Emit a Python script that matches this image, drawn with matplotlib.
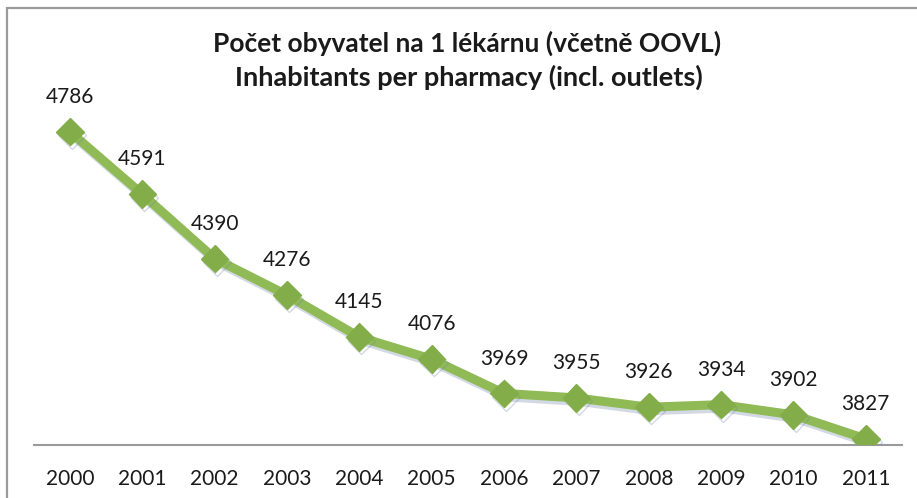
import matplotlib
matplotlib.use("Agg")
import matplotlib.pyplot as plt
import matplotlib.patheffects as pe
from matplotlib.patches import Rectangle

years = ["2000", "2001", "2002", "2003", "2004", "2005",
         "2006", "2007", "2008", "2009", "2010", "2011"]
inhabitants = [4786, 4591, 4390, 4276, 4145, 4076,
               3969, 3955, 3926, 3934, 3902, 3827]
title_cz = "Počet obyvatel na 1 lékárnu (včetně OOVL)"
title_en = "Inhabitants per pharmacy (incl. outlets)"

plt.rcParams['font.family'] = ['Lato', 'DejaVu Sans']

W, H = 917, 498
fig = plt.figure(figsize=(W / 100, H / 100), dpi=100)
fig.patch.set_facecolor("white")

# gray frame (only left/top visible, the rest is cropped)
fig.patches.append(Rectangle((7 / W, -0.05), 1.2, 1 - 8 / H + 0.05,
                             transform=fig.transFigure, fill=False,
                             edgecolor="#9a9a9a", linewidth=1.6))

ax = fig.add_axes([33.8 / W, (H - 445) / H, (902 - 33.8) / W, 385 / H])
ax.set_facecolor("none")

x = list(range(len(years)))
shadow = [pe.SimpleLineShadow(offset=(1.5, -2.5), shadow_color="#6f82a8", alpha=0.3),
          pe.Normal()]
ax.plot(x, inhabitants, color="#8fba55", linewidth=6.5,
        marker="D", markersize=14, markerfacecolor="#82ad48",
        markeredgecolor="#82ad48", solid_joinstyle="round",
        path_effects=shadow, zorder=3)

for xi, v in zip(x, inhabitants):
    ax.annotate(str(v), (xi, v), xytext=(0, 25), textcoords="offset points",
                ha="center", va="center", fontsize=15, color="#1a1a1a")

ax.set_xlim(-0.5, len(years) - 0.5)
ax.set_ylim(3808, 5010)
ax.set_xticks(x)
ax.set_xticklabels(years, fontsize=15, color="#1a1a1a")
ax.set_yticks([])
ax.tick_params(axis="x", length=0, pad=17)
for s in ["top", "right", "left"]:
    ax.spines[s].set_visible(False)
ax.spines["bottom"].set_color("#9a9a9a")
ax.spines["bottom"].set_linewidth(1.5)

fig.text(467 / W, 1 - 52 / H, title_cz, ha="center", va="baseline",
         fontsize=19, fontweight="bold", color="#1a1a1a")
fig.text(469 / W, 1 - 86 / H, title_en, ha="center", va="baseline",
         fontsize=19.5, fontweight="bold", color="#1a1a1a")

fig.savefig("out.png", dpi=100)
